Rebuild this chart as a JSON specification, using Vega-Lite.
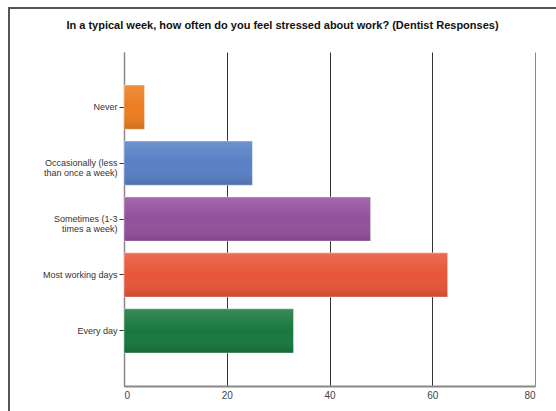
{
  "$schema": "https://vega.github.io/schema/vega-lite/v6.json",
  "autosize": "none",
  "width": 547,
  "height": 403,
  "padding": {"left": 9, "top": 8, "right": 0, "bottom": 0},
  "background": "white",
  "config": {
    "view": {"stroke": "#555555", "strokeWidth": 2, "strokeDash": [547, 950, 403], "fill": "white"},
    "font": "Liberation Sans"
  },
  "title": {
    "text": "In a typical week, how often do you feel stressed about work? (Dentist Responses)",
    "font": "Liberation Sans",
    "fontSize": 11,
    "fontWeight": "bold",
    "color": "#111111",
    "anchor": "middle",
    "baseline": "alphabetic",
    "offset": -32
  },
  "data": {
    "values": [
      {"answer": "Never", "count": 4},
      {"answer": "Occasionally (less than once a week)", "count": 25},
      {"answer": "Sometimes (1-3 times a week)", "count": 48},
      {"answer": "Most working days", "count": 63},
      {"answer": "Every day", "count": 33}
    ]
  },
  "encoding": {
    "y": {
      "field": "answer",
      "type": "nominal",
      "sort": null,
      "scale": {"range": [44, 378], "paddingInner": 0.21, "paddingOuter": 0.59},
      "axis": {
        "title": null,
        "orient": "left",
        "offset": -115,
        "domainColor": "#888888",
        "domainWidth": 1.5,
        "tickColor": "#333333",
        "tickSize": 5,
        "labelFont": "Liberation Sans",
        "labelFontSize": 9,
        "labelColor": "#333333",
        "labelPadding": 2,
        "labelLineHeight": 10,
        "labelLimit": 200,
        "labelExpr": "datum.value == 'Occasionally (less than once a week)' ? ['Occasionally (less', 'than once a week)'] : datum.value == 'Sometimes (1-3 times a week)' ? ['Sometimes (1-3', 'times a week)'] : datum.value"
      }
    },
    "x": {
      "field": "count",
      "type": "quantitative",
      "scale": {"domain": [0, 80], "range": [115, 526], "nice": false},
      "axis": {
        "title": null,
        "orient": "bottom",
        "offset": -25,
        "values": [0, 20, 40, 60, 80],
        "grid": false,
        "domainColor": "#888888",
        "domainWidth": 2,
        "tickSize": -334,
        "tickWidth": 1,
        "tickColor": {
          "condition": {"test": "datum.value == 0 || datum.value == 80", "value": "#8a8a8a"},
          "value": "#333333"
        },
        "labelPadding": 338,
        "labelFont": "Liberation Sans",
        "labelFontSize": 10,
        "labelColor": "#444444"
      }
    }
  },
  "layer": [
    {
      "mark": {"type": "bar", "stroke": "#ffffff", "strokeOpacity": 0.45, "strokeWidth": 1},
      "encoding": {
        "color": {
          "field": "answer",
          "type": "nominal",
          "sort": null,
          "legend": null,
          "scale": {"range": ["#ec7d20", "#5880c5", "#93509c", "#e85438", "#18773e"]}
        }
      }
    },
    {
      "mark": {
        "type": "bar",
        "fill": {
          "gradient": "linear",
          "x1": 0, "y1": 0, "x2": 0, "y2": 1,
          "stops": [
            {"offset": 0, "color": "rgba(255,255,255,0.14)"},
            {"offset": 0.5, "color": "rgba(255,255,255,0)"},
            {"offset": 1, "color": "rgba(0,0,0,0.12)"}
          ]
        }
      }
    }
  ]
}
